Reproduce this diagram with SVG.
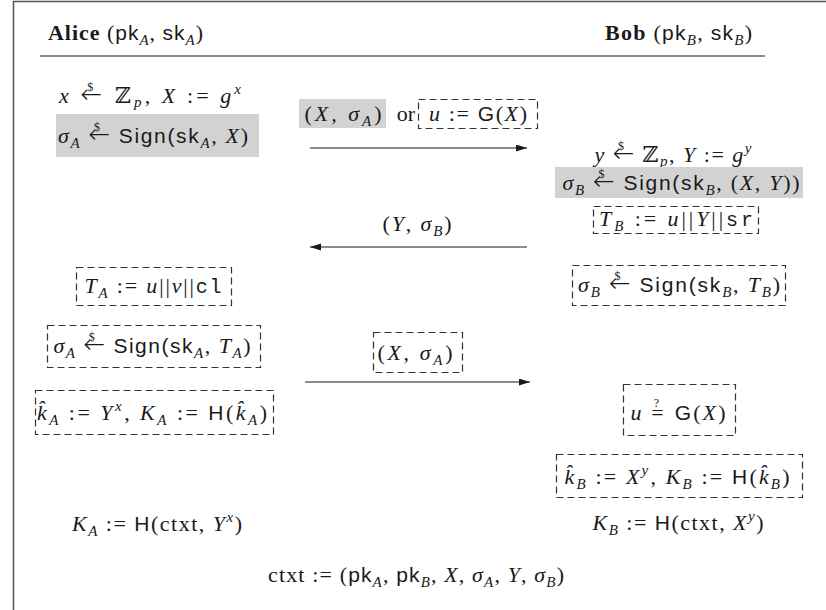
<svg xmlns="http://www.w3.org/2000/svg" width="826" height="610" viewBox="0 0 826 610">
<style>
text { font-family: "Liberation Serif", "DejaVu Serif", serif; font-size: 22px; fill: #1a1a1a; }
.c { text-anchor: middle; }
.i { font-style: italic; }
.b { font-weight: bold; }
.s { font-family: "Liberation Sans", "DejaVu Sans", sans-serif; font-size: 21px; }
.t { font-family: "Liberation Mono", "DejaVu Sans Mono", monospace; font-size: 20px; }
.ar { font-family: "DejaVu Sans", sans-serif; font-size: 26px; font-style: normal; font-weight: 200; }
.sub { font-size: 15px; }
.dl { font-size: 12px; font-style: normal; }
.gray { fill: #d2d2d2; stroke: none; }
.dash { fill: none; stroke: #333; stroke-width: 1.2; stroke-dasharray: 7 4; }
.conn { stroke: #1a1a1a; stroke-width: 1.2; fill: none; }
.frame { stroke: #555; stroke-width: 1.5; fill: none; }
</style>
<defs>
<marker id="ah" markerUnits="userSpaceOnUse" markerWidth="12" markerHeight="8" refX="11" refY="3.5" orient="auto">
<path d="M0,0 L11,3.5 L0,7 z" fill="#1a1a1a"/>
</marker>
</defs>
<rect width="826" height="610" fill="#fff"/>
<path class="frame" d="M13.5,610 V1.5 H826"/>

<g id="header">
<text x="48" y="40" textLength="155"><tspan class="b">Alice</tspan> (<tspan class="s">pk</tspan><tspan class="i sub" dy="5">A</tspan><tspan dy="-5">, </tspan><tspan class="s">sk</tspan><tspan class="i sub" dy="5">A</tspan><tspan dy="-5">)</tspan></text>
<text x="752" y="40" text-anchor="end" textLength="147"><tspan class="b">Bob</tspan> (<tspan class="s">pk</tspan><tspan class="i sub" dy="5">B</tspan><tspan dy="-5">, </tspan><tspan class="s">sk</tspan><tspan class="i sub" dy="5">B</tspan><tspan dy="-5">)</tspan></text>
<line x1="40" y1="56" x2="765" y2="56" stroke="#1a1a1a" stroke-width="1.2"/>
</g>

<g id="alice-gen">
<text class="c" x="150" y="103" textLength="182"><tspan class="i">x </tspan><tspan class="ar">←</tspan><tspan class="dl" dx="-18" dy="-12">$</tspan><tspan dx="10" dy="12"> ℤ</tspan><tspan class="i sub" dy="4">p</tspan><tspan dy="-4">, </tspan><tspan class="i">X</tspan><tspan> := </tspan><tspan class="i">g</tspan><tspan class="i sub" dy="-9">x</tspan></text>
</g>

<g id="alice-sign1">
<rect class="gray" x="56" y="114" width="203" height="43"/>
<text class="c" x="153" y="143" textLength="190"><tspan class="i">σ</tspan><tspan class="i sub" dy="5">A</tspan><tspan dy="-5"> </tspan><tspan class="ar">←</tspan><tspan class="dl" dx="-18" dy="-12">$</tspan><tspan dx="10" dy="12"> </tspan><tspan class="s">Sign(sk</tspan><tspan class="i sub" dy="5">A</tspan><tspan dy="-5">, </tspan><tspan class="i">X</tspan><tspan>)</tspan></text>
</g>

<g id="msg1-label">
<rect class="gray" x="299" y="99" width="87" height="29"/>
<text class="c" x="343" y="121" textLength="77">(<tspan class="i">X</tspan>, <tspan class="i">σ</tspan><tspan class="i sub" dy="5">A</tspan><tspan dy="-5">)</tspan></text>
<text class="c" x="406" y="121">or</text>
<rect class="dash" x="418.5" y="99.5" width="119" height="29"/>
<text class="c" x="478" y="121" textLength="98"><tspan class="i">u</tspan> := <tspan class="s">G</tspan>(<tspan class="i">X</tspan>)</text>
</g>

<g id="bob-gen">
<text class="c" x="673" y="162" textLength="157"><tspan class="i">y </tspan><tspan class="ar">←</tspan><tspan class="dl" dx="-18" dy="-12">$</tspan><tspan dx="10" dy="12"> ℤ</tspan><tspan class="i sub" dy="4">p</tspan><tspan dy="-4">, </tspan><tspan class="i">Y</tspan><tspan> := </tspan><tspan class="i">g</tspan><tspan class="i sub" dy="-9">y</tspan></text>
</g>

<g id="bob-sign1">
<rect class="gray" x="555" y="167" width="248" height="31"/>
<text class="c" x="681" y="190" textLength="237"><tspan class="i">σ</tspan><tspan class="i sub" dy="5">B</tspan><tspan dy="-5"> </tspan><tspan class="ar">←</tspan><tspan class="dl" dx="-18" dy="-12">$</tspan><tspan dx="10" dy="12"> </tspan><tspan class="s">Sign(sk</tspan><tspan class="i sub" dy="5">B</tspan><tspan dy="-5">, (</tspan><tspan class="i">X</tspan>, <tspan class="i">Y</tspan><tspan>))</tspan></text>
</g>

<g id="msg2-label">
<text class="c" x="417" y="231" textLength="69">(<tspan class="i">Y</tspan>, <tspan class="i">σ</tspan><tspan class="i sub" dy="5">B</tspan><tspan dy="-5">)</tspan></text>
</g>

<g id="bob-tb">
<rect class="dash" x="593.5" y="206.5" width="165" height="27"/>
<text class="c" x="676" y="226" textLength="154"><tspan class="i">T</tspan><tspan class="i sub" dy="5">B</tspan><tspan dy="-5"> := </tspan><tspan class="i">u</tspan>||<tspan class="i">Y</tspan>||<tspan class="t">sr</tspan></text>
</g>

<g id="bob-sign2">
<rect class="dash" x="572.5" y="265.5" width="213" height="40"/>
<text class="c" x="679" y="292" textLength="202"><tspan class="i">σ</tspan><tspan class="i sub" dy="5">B</tspan><tspan dy="-5"> </tspan><tspan class="ar">←</tspan><tspan class="dl" dx="-18" dy="-12">$</tspan><tspan dx="10" dy="12"> </tspan><tspan class="s">Sign(sk</tspan><tspan class="i sub" dy="5">B</tspan><tspan dy="-5">, </tspan><tspan class="i">T</tspan><tspan class="i sub" dy="5">B</tspan><tspan dy="-5">)</tspan></text>
</g>

<g id="alice-ta">
<rect class="dash" x="76.5" y="267.5" width="155" height="38"/>
<text class="c" x="153" y="293" textLength="137"><tspan class="i">T</tspan><tspan class="i sub" dy="5">A</tspan><tspan dy="-5"> := </tspan><tspan class="i">u</tspan>||<tspan class="i">v</tspan>||<tspan class="t">cl</tspan></text>
</g>

<g id="alice-sign2">
<rect class="dash" x="47.5" y="325.5" width="213" height="42"/>
<text class="c" x="152" y="353" textLength="197"><tspan class="i">σ</tspan><tspan class="i sub" dy="5">A</tspan><tspan dy="-5"> </tspan><tspan class="ar">←</tspan><tspan class="dl" dx="-18" dy="-12">$</tspan><tspan dx="10" dy="12"> </tspan><tspan class="s">Sign(sk</tspan><tspan class="i sub" dy="5">A</tspan><tspan dy="-5">, </tspan><tspan class="i">T</tspan><tspan class="i sub" dy="5">A</tspan><tspan dy="-5">)</tspan></text>
</g>

<g id="alice-key">
<rect class="dash" x="35.5" y="390.5" width="238" height="44"/>
<text class="c" x="152" y="420" textLength="230"><tspan class="i">k̂</tspan><tspan class="i sub" dy="5">A</tspan><tspan dy="-5"> := </tspan><tspan class="i">Y</tspan><tspan class="i sub" dy="-9">x</tspan><tspan dy="9">, </tspan><tspan class="i">K</tspan><tspan class="i sub" dy="5">A</tspan><tspan dy="-5"> := </tspan><tspan class="s">H</tspan>(<tspan class="i">k̂</tspan><tspan class="i sub" dy="5">A</tspan><tspan dy="-5">)</tspan></text>
</g>

<g id="msg3-label">
<rect class="dash" x="373.5" y="332.5" width="89" height="40"/>
<text class="c" x="415" y="360" textLength="75">(<tspan class="i">X</tspan>, <tspan class="i">σ</tspan><tspan class="i sub" dy="5">A</tspan><tspan dy="-5">)</tspan></text>
</g>

<g id="bob-check">
<rect class="dash" x="623.5" y="384.5" width="112" height="51"/>
<text class="c" x="678" y="420" textLength="95"><tspan class="i">u</tspan><tspan> =</tspan><tspan class="dl" dx="-12" dy="-13">?</tspan><tspan dx="6" dy="13"> </tspan><tspan class="s">G</tspan>(<tspan class="i">X</tspan>)</text>
</g>

<g id="bob-key">
<rect class="dash" x="556.5" y="454.5" width="246" height="43"/>
<text class="c" x="677" y="484" textLength="225"><tspan class="i">k̂</tspan><tspan class="i sub" dy="5">B</tspan><tspan dy="-5"> := </tspan><tspan class="i">X</tspan><tspan class="i sub" dy="-9">y</tspan><tspan dy="9">, </tspan><tspan class="i">K</tspan><tspan class="i sub" dy="5">B</tspan><tspan dy="-5"> := </tspan><tspan class="s">H</tspan>(<tspan class="i">k̂</tspan><tspan class="i sub" dy="5">B</tspan><tspan dy="-5">)</tspan></text>
</g>

<g id="bob-final">
<text class="c" x="678" y="530" textLength="171"><tspan class="i">K</tspan><tspan class="i sub" dy="5">B</tspan><tspan dy="-5"> := </tspan><tspan class="s">H</tspan>(ctxt, <tspan class="i">X</tspan><tspan class="i sub" dy="-9">y</tspan><tspan dy="9">)</tspan></text>
</g>

<g id="alice-final">
<text class="c" x="157" y="531" textLength="170"><tspan class="i">K</tspan><tspan class="i sub" dy="5">A</tspan><tspan dy="-5"> := </tspan><tspan class="s">H</tspan>(ctxt, <tspan class="i">Y</tspan><tspan class="i sub" dy="-9">x</tspan><tspan dy="9">)</tspan></text>
</g>

<g id="ctxt">
<text class="c" x="416" y="582" textLength="296">ctxt := (<tspan class="s">pk</tspan><tspan class="i sub" dy="5">A</tspan><tspan dy="-5">, </tspan><tspan class="s">pk</tspan><tspan class="i sub" dy="5">B</tspan><tspan dy="-5">, </tspan><tspan class="i">X</tspan>, <tspan class="i">σ</tspan><tspan class="i sub" dy="5">A</tspan><tspan dy="-5">, </tspan><tspan class="i">Y</tspan>, <tspan class="i">σ</tspan><tspan class="i sub" dy="5">B</tspan><tspan dy="-5">)</tspan></text>
</g>

<g id="connectors">
<line class="conn" x1="310" y1="148" x2="527" y2="148" marker-end="url(#ah)"/>
<line class="conn" x1="527" y1="247" x2="310" y2="247" marker-end="url(#ah)"/>
<line class="conn" x1="305" y1="382" x2="530" y2="382" marker-end="url(#ah)"/>
</g>
</svg>
